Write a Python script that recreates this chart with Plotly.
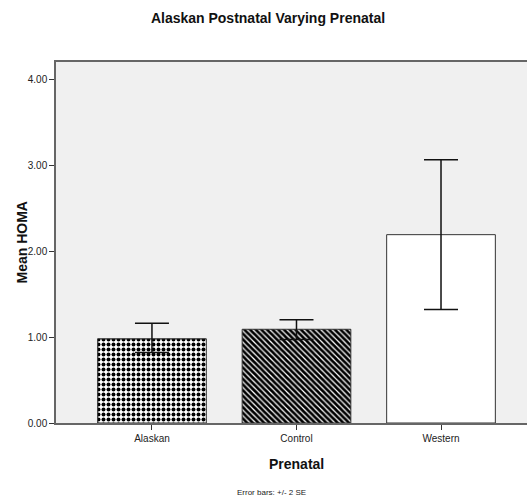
import plotly.graph_objects as go

categories = ["Alaskan", "Control", "Western"]
means = [0.98, 1.09, 2.19]
err_upper = [1.16, 1.20, 3.06]
err_lower = [0.82, 0.97, 1.32]
y_ticks = [0, 1, 2, 3, 4]
y_tick_labels = ["0.00", "1.00", "2.00", "3.00", "4.00"]

FONT = "Liberation Sans Narrow, Arial Narrow, Liberation Sans, Arial, sans-serif"

patterns = [
    dict(shape=".", fgcolor="#000000", bgcolor="#ffffff", fgopacity=1, size=5, solidity=0.5, fillmode="overlay"),
    dict(shape="\\", fgcolor="#000000", bgcolor="#ffffff", fgopacity=1, size=4, solidity=0.7, fillmode="overlay"),
    dict(shape="", bgcolor="#ffffff"),
]

fig = go.Figure()
for i, cat in enumerate(categories):
    fig.add_trace(go.Bar(
        x=[cat], y=[means[i]],
        width=0.752,
        marker=dict(color="#ffffff", line=dict(color="#333333", width=1), pattern=patterns[i]),
        error_y=dict(type="data", symmetric=False,
                     array=[err_upper[i] - means[i]],
                     arrayminus=[means[i] - err_lower[i]],
                     color="#111111", thickness=1.5, width=17),
        showlegend=False,
        hoverinfo="skip",
    ))

plot_h = 502 - 62 - 79
plot_w = 527 - 56

fig.update_layout(
    width=527, height=502,
    margin=dict(l=56, r=0, t=62, b=79),
    paper_bgcolor="#ffffff",
    plot_bgcolor="#f0f0f0",
    font=dict(family=FONT, color="#222222", size=10),
    title=dict(text="Alaskan Postnatal Varying Prenatal", x=268 / 527, xanchor="center",
               y=1 - 18 / 502, yanchor="middle", yref="container",
               font=dict(family=FONT, size=14, color="#111111", weight="bold")),
    xaxis=dict(
        range=[-0.664, 2.595], showline=True, linecolor="#666666", linewidth=1.5, mirror=True,
        ticks="outside", ticklen=5, tickcolor="#333333", tickwidth=1,
        showgrid=False, zeroline=False,
        tickfont=dict(family=FONT, size=10, color="#222222"),
    ),
    yaxis=dict(
        range=[0, 4.198], showline=True, linecolor="#666666", linewidth=1.5, mirror=False,
        ticks="outside", ticklen=5, tickcolor="#333333", tickwidth=1,
        tickvals=y_ticks, ticktext=y_tick_labels,
        showgrid=False, zeroline=False,
        tickfont=dict(family=FONT, size=10, color="#222222"),
    ),
    annotations=[
        dict(text="<b>Prenatal</b>", x=1, xref="x", y=(423 - 464) / plot_h, yref="paper",
             yanchor="middle", showarrow=False, font=dict(family=FONT, size=14, color="#111111")),
        dict(text="<b>Mean HOMA</b>", x=(21 - 56) / plot_w, xref="paper", y=0.5, yref="paper",
             xanchor="center", showarrow=False, textangle=-90,
             font=dict(family=FONT, size=14, color="#111111")),
        dict(text="Error bars: +/- 2 SE", xref="paper", yref="paper",
             x=(271 - 56) / plot_w, y=(423 - 492) / plot_h,
             xanchor="center", yanchor="middle", showarrow=False,
             font=dict(family=FONT, size=8, color="#222222")),
    ],
)

fig.write_html("out.html", config={"displayModeBar": False},
               post_script="document.body.style.margin='0';document.body.style.padding='0';")
